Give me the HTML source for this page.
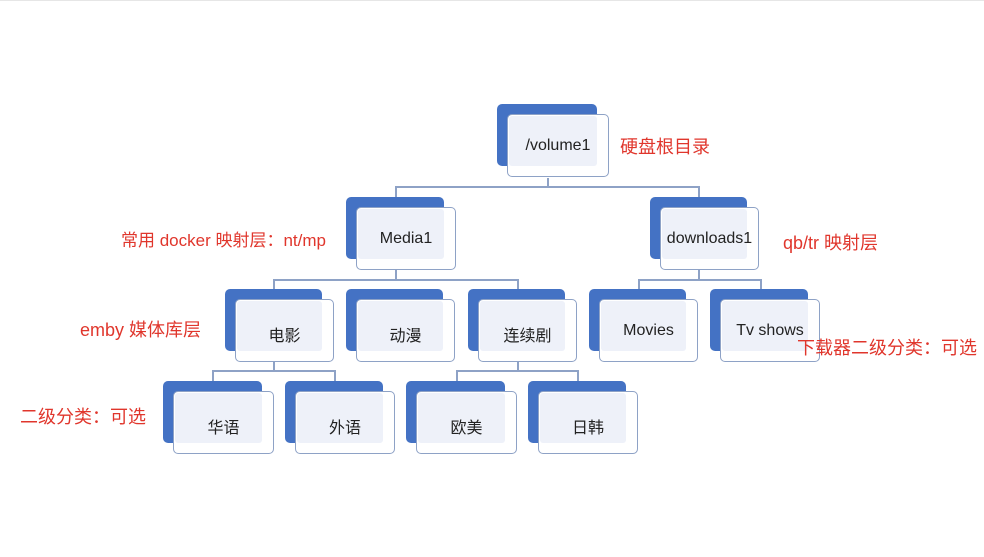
<!DOCTYPE html>
<html><head><meta charset="utf-8"><style>
body{margin:0;width:984px;height:557px;background:#fff;position:relative;overflow:hidden;font-family:"Liberation Sans","Noto Sans CJK SC",sans-serif}
.b{position:absolute;background:#4472c4;border-radius:5px}
.f{position:absolute;background:#fff;border:1.5px solid #8ea2c6;border-radius:5px;box-sizing:border-box}
.l{position:absolute;background:#eef1f9;border-radius:3px}
.t{position:absolute;font-size:16px;color:#222;text-align:center;white-space:nowrap}
.r{position:absolute;color:#e0362c;font-size:18px;white-space:nowrap}
.h{position:absolute;background:#8ea2c6;height:1.5px}
.v{position:absolute;background:#8ea2c6;width:1.5px}
</style></head><body>
<div style="position:absolute;left:0;top:0;width:984px;height:1px;background:#e6e6e6"></div>
<div id="c"></div>
<div class="v" style="left:547px;top:178px;height:9px"></div>
<div class="h" style="left:395px;top:186px;width:304px"></div>
<div class="v" style="left:395px;top:186px;height:11px"></div>
<div class="v" style="left:698px;top:186px;height:11px"></div>
<div class="v" style="left:395px;top:270px;height:9px"></div>
<div class="h" style="left:273px;top:279px;width:245px"></div>
<div class="v" style="left:273px;top:279px;height:10px"></div>
<div class="v" style="left:517px;top:279px;height:10px"></div>
<div class="v" style="left:698px;top:270px;height:9px"></div>
<div class="h" style="left:638px;top:279px;width:122px"></div>
<div class="v" style="left:638px;top:279px;height:10px"></div>
<div class="v" style="left:760px;top:279px;height:10px"></div>
<div class="v" style="left:273px;top:362px;height:8px"></div>
<div class="h" style="left:212px;top:370px;width:123px"></div>
<div class="v" style="left:212px;top:370px;height:11px"></div>
<div class="v" style="left:334px;top:370px;height:11px"></div>
<div class="v" style="left:517px;top:362px;height:8px"></div>
<div class="h" style="left:456px;top:370px;width:122px"></div>
<div class="v" style="left:456px;top:370px;height:11px"></div>
<div class="v" style="left:577px;top:370px;height:11px"></div>
<script>
var n=[[497,104,100,"/volume1"],[346,197,98,"Media1"],[650,197,97,"downloads1"],
[225,289,97,"电影"],[346,289,97,"动漫"],[468,289,97,"连续剧"],[589,289,97,"Movies"],[710,289,98,"Tv shows"],
[163,381,99,"华语"],[285,381,98,"外语"],[406,381,99,"欧美"],[528,381,98,"日韩"]];
var h="";
n.forEach(function(a){var x=a[0],y=a[1],w=a[2];
h+='<div class="b" style="left:'+x+'px;top:'+y+'px;width:'+w+'px;height:62px"></div>';
h+='<div class="f" style="left:'+(x+10)+'px;top:'+(y+10)+'px;width:'+(w+2)+'px;height:63px"></div>';
h+='<div class="l" style="left:'+(x+12)+'px;top:'+(y+12)+'px;width:'+(w-12)+'px;height:50px"></div>';
h+='<div class="t" style="left:'+(x+10)+'px;top:'+(y+33)+'px;width:'+(w+2)+'px">'+a[3]+'</div>';});
document.getElementById("c").innerHTML=h;
</script>
<div class="r" style="left:620px;top:133px">硬盘根目录</div>
<div class="r" style="left:121px;top:226px;font-size:17px">常用 docker 映射层：nt/mp</div>
<div class="r" style="left:783px;top:229px">qb/tr 映射层</div>
<div class="r" style="left:80px;top:316px">emby 媒体库层</div>
<div class="r" style="left:797px;top:334px">下载器二级分类：可选</div>
<div class="r" style="left:20px;top:403px">二级分类：可选</div>
</body></html>
